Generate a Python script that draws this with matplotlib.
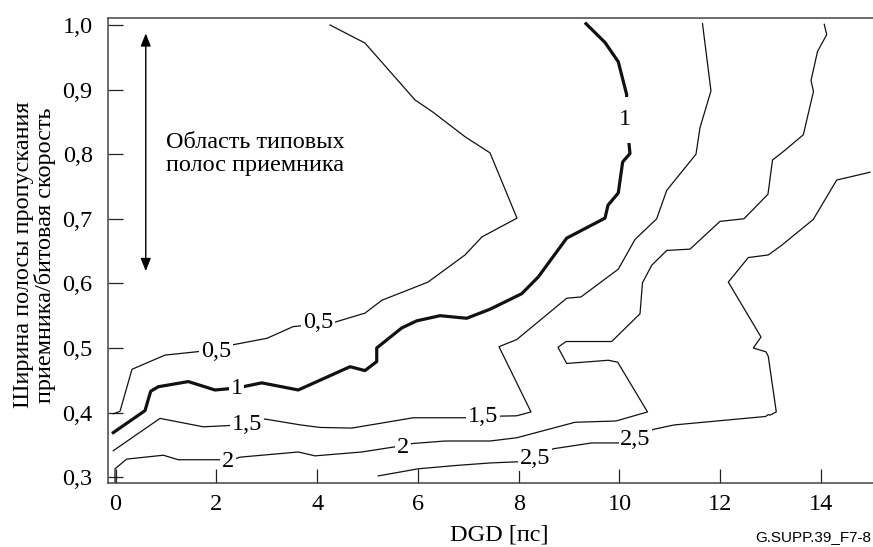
import numpy as np
import matplotlib.pyplot as plt

# Contour lines of the penalty (dB) over DGD and receiver bandwidth

lvl05_x = [-0.044, 0.089, 0.327, 0.982, 1.716, 2.331, 3.006, 3.522, 4.355, 4.950,
           5.288, 5.942, 6.200, 6.935, 7.272, 7.966, 7.431, 6.935, 6.300, 5.942,
           4.950, 4.256]
lvl05_y = [0.398, 0.402, 0.467, 0.489, 0.495, 0.505, 0.515, 0.533, 0.540, 0.554,
           0.574, 0.594, 0.602, 0.644, 0.672, 0.701, 0.802, 0.827, 0.865, 0.884,
           0.972, 1.000]

lvl1_x = [-0.044, 0.585, 0.698, 0.849, 1.444, 1.974, 2.405, 2.901, 3.627, 4.653,
          4.950, 5.183, 5.183, 5.679, 5.976, 6.438, 6.968, 7.431, 8.060, 8.389,
          8.952, 9.712, 9.772, 9.976, 10.063, 10.208, 10.175, 10.109, 10.143,
          9.976, 9.712, 9.335]
lvl1_y = [0.369, 0.403, 0.433, 0.440, 0.448, 0.435, 0.438, 0.446, 0.435, 0.471,
          0.465, 0.479, 0.500, 0.531, 0.542, 0.550, 0.546, 0.560, 0.584, 0.610,
          0.670, 0.701, 0.721, 0.740, 0.788, 0.801, 0.827, 0.853, 0.892,
          0.943, 0.973, 1.002]

lvl15_x = [-0.044, 0.883, 1.742, 2.272, 2.603, 2.966, 3.661, 4.058, 4.687, 5.909,
           7.000, 7.298, 7.960, 8.244, 7.609, 7.960, 8.952, 9.236, 9.976, 10.308,
           10.738, 10.937, 11.518, 11.597, 11.815, 11.647]
lvl15_y = [0.341, 0.391, 0.378, 0.380, 0.381, 0.390, 0.381, 0.377, 0.376, 0.392,
           0.392, 0.394, 0.395, 0.401, 0.502, 0.513, 0.577, 0.579, 0.622, 0.668,
           0.700, 0.744, 0.800, 0.841, 0.898, 1.002]

lvl2_x = [-0.010, -0.010, 0.222, 0.948, 1.246, 2.073, 2.238, 2.470, 3.627, 3.958,
          4.885, 5.546, 5.710, 5.877, 6.538, 7.431, 7.960, 9.117, 9.931, 10.556,
          9.964, 9.778, 8.952, 8.780, 8.938, 9.845, 10.407, 10.456, 10.639, 10.937,
          11.399, 11.994, 12.470, 12.946, 13.036, 13.250, 13.647, 13.849, 13.800,
          13.929, 14.111, 14.063]
lvl2_y = [0.292, 0.313, 0.328, 0.334, 0.327, 0.327, 0.325, 0.331, 0.339, 0.333,
          0.339, 0.347, 0.346, 0.352, 0.356, 0.356, 0.361, 0.385, 0.387, 0.401,
          0.478, 0.481, 0.476, 0.501, 0.510, 0.510, 0.553, 0.601, 0.628, 0.651,
          0.653, 0.696, 0.700, 0.738, 0.791, 0.804, 0.830, 0.897, 0.914,
          0.959, 0.985, 1.001]

lvl25_x = [5.214, 6.008, 6.736, 7.431, 8.026, 8.323, 8.687, 9.448, 10.010, 10.317,
           10.671, 10.968, 11.101, 12.901, 12.952, 12.986, 13.111, 12.952, 12.907,
           12.655, 12.808, 12.159, 12.556, 12.952, 13.218, 13.845, 14.310, 14.970]
lvl25_y = [0.302, 0.313, 0.318, 0.322, 0.324, 0.329, 0.344, 0.353, 0.353, 0.358,
           0.374, 0.379, 0.381, 0.394, 0.397, 0.396, 0.401, 0.487, 0.494,
           0.500, 0.517, 0.602, 0.640, 0.644, 0.659, 0.699, 0.760, 0.772]

# inline labels: text, x, y
lab_text = ["0,5", "0,5", "1", "1", "1,5", "1,5", "2", "2", "2,5", "2,5"]
lab_x = [1.994, 4.018, 2.405, 10.109, 2.603, 7.298, 2.238, 5.710, 8.323, 10.317]
lab_y = [0.494, 0.539, 0.438, 0.853, 0.381, 0.394, 0.325, 0.346, 0.329, 0.358]

serif = "Liberation Serif"
fs = 17.5
W, H = 873, 547
fig = plt.figure(figsize=(W/100, H/100), dpi=100)
ax = fig.add_axes([108/W, (H-483)/H, 765/W, 465/H])

ink = "#111111"
for xs, ys in [(lvl05_x, lvl05_y), (lvl15_x, lvl15_y), (lvl2_x, lvl2_y), (lvl25_x, lvl25_y)]:
    ax.plot(xs, ys, color=ink, lw=0.9, zorder=2)
ax.plot(lvl1_x, lvl1_y, color=ink, lw=2.3, zorder=2)

for t, x, y in zip(lab_text, lab_x, lab_y):
    pad = 9 if (t == "1" and y > 0.8) else 1.2
    ax.text(x, y, t, fontsize=fs, family=serif, ha="center", va="center",
            bbox=dict(facecolor="white", edgecolor="none", pad=pad), zorder=3)

# typical receiver bandwidth range
ax.annotate("", xy=(0.6, 0.987), xytext=(0.6, 0.619),
            arrowprops=dict(arrowstyle="<|-|>,head_length=0.55,head_width=0.22",
                            color="black", lw=1.0, mutation_scale=14,
                            shrinkA=0, shrinkB=0))
ax.text(1.0, 0.80, "Область типовых\nполос приемника", fontsize=fs, family=serif,
        ha="left", va="center", linespacing=1.1)

ax.set_xlim(-0.149, 15.03)
ax.set_ylim(0.291, 1.0108)
ax.set_xticks(np.arange(0, 16, 2))
ax.set_yticks(np.arange(0.3, 1.01, 0.1))
ax.set_yticklabels(["0,3", "0,4", "0,5", "0,6", "0,7", "0,8", "0,9", "1,0"])
ax.tick_params(direction="in", color="#222222", width=0.9, labelsize=fs)
ax.tick_params(axis="y", length=11, pad=11)
ax.tick_params(axis="x", length=10, pad=8)
for lb in ax.get_xticklabels() + ax.get_yticklabels():
    lb.set_family(serif)

for s in ["left", "bottom", "top"]:
    ax.spines[s].set_color("#444444")
    ax.spines[s].set_linewidth(1.1)
ax.spines["right"].set_visible(False)

fig.text(499/W, 1 - 535/H, "DGD [пс]", fontsize=fs, family=serif,
         ha="center", va="center")
fig.text(35/W, 1 - 255/H, "Ширина полосы пропускания\nприемника/битовая скорость",
         fontsize=fs, family=serif, rotation=90, ha="center", va="center",
         multialignment="center", linespacing=1.0)
fig.text(871/W, 1 - 537/H, "G.SUPP.39_F7-8", fontsize=11,
         family="Liberation Sans", ha="right", va="center")

fig.savefig("out.png", dpi=100)
